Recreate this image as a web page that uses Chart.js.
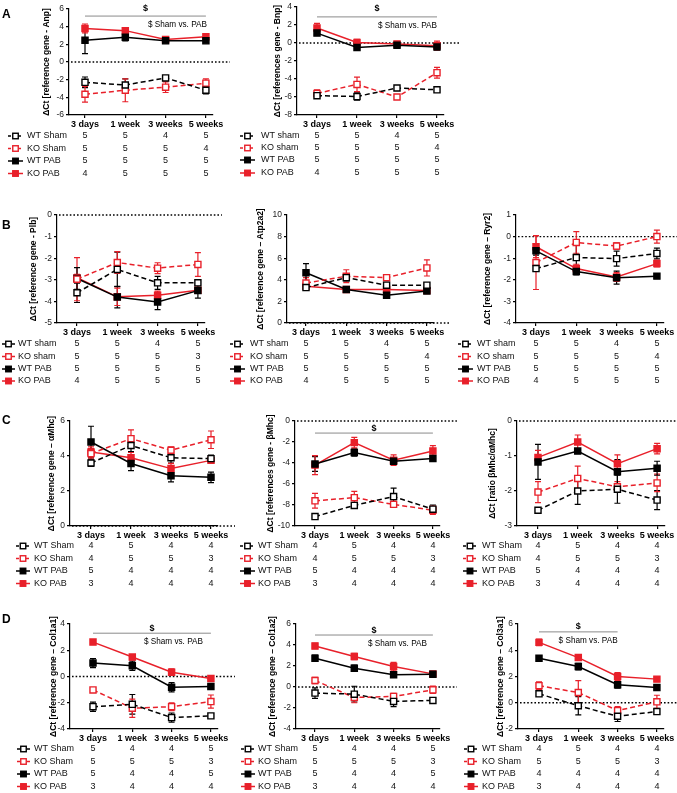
<!DOCTYPE html>
<html>
<head>
<meta charset="utf-8">
<script src="https://cdn.jsdelivr.net/npm/chart.js@4.4.1/dist/chart.umd.min.js"></script>
<style>
  html, body { margin: 0; padding: 0; background: #fff; }
  #wrap { position: relative; width: 677px; height: 793px; overflow: hidden; }
  #wrap canvas { position: absolute; left: 0; top: 0; }
  .lbl { position: absolute; font: bold 12px "Liberation Sans", Arial, sans-serif; line-height: 12px; color: #000; }
</style>
</head>
<body>
<div id="wrap"></div>
<script>
const timepoints = ['3 days', '1 week', '3 weeks', '5 weeks'];
// series order in every array: WT sham, KO sham, WT PAB, KO PAB

// A - Anp
const anpMean = [[-2.3, -2.6, -1.8, -3.2], [-3.65, -3.2, -2.85, -2.4], [2.45, 2.8, 2.4, 2.4], [3.8, 3.55, 2.55, 2.85]];
const anpSem = [[0.6, 0.7, 0.1, 0.4], [0.9, 1.3, 0.6, 0.5], [1.5, 0.4, 0.15, 0.15], [0.5, 0.3, 0.15, 0.25]];
const anpN = [[5, 5, 4, 5], [5, 5, 5, 4], [5, 5, 5, 5], [4, 5, 5, 5]];

// A - Bnp
const bnpMean = [[-5.85, -5.95, -5.0, -5.2], [-5.6, -4.6, -6.0, -3.3], [1.1, -0.5, -0.25, -0.45], [1.67, 0.05, -0.1, -0.3]];
const bnpSem = [[0.15, 0.4, 0.1, 0.2], [0.4, 0.8, 0.2, 0.6], [0.2, 0.15, 0.1, 0.15], [0.5, 0.35, 0.1, 0.5]];
const bnpN = [[5, 5, 4, 5], [5, 5, 5, 4], [5, 5, 5, 5], [4, 5, 5, 5]];

// B - Plb
const plbMean = [[-3.6, -2.52, -3.14, -3.14], [-2.97, -2.2, -2.46, -2.29], [-2.94, -3.8, -4.03, -3.5], [-2.9, -3.79, -3.72, -3.48]];
const plbSem = [[0.45, 0.8, 0.3, 0.1], [1.0, 0.5, 0.25, 0.55], [0.5, 0.5, 0.35, 0.35], [0.15, 0.4, 0.2, 0.1]];
const plbN = [[5, 5, 4, 5], [5, 5, 5, 3], [5, 5, 5, 5], [4, 5, 5, 5]];

// B - Atp2a2
const atpMean = [[3.28, 4.2, 3.5, 3.5], [3.7, 4.33, 4.2, 5.1], [4.65, 3.1, 2.57, 2.97], [3.4, 3.1, 3.1, 3.0]];
const atpSem = [[0.15, 0.3, 0.15, 0.1], [0.5, 0.6, 0.15, 0.75], [0.85, 0.2, 0.1, 0.15], [0.3, 0.2, 0.2, 0.15]];
const atpN = [[5, 5, 4, 5], [5, 5, 5, 4], [5, 5, 5, 5], [4, 5, 5, 5]];

// B - Ryr2
const ryrMean = [[-1.48, -0.97, -1.02, -0.78], [-1.2, -0.27, -0.44, 0.0], [-0.66, -1.62, -1.9, -1.83], [-0.47, -1.48, -1.87, -1.25]];
const ryrSem = [[0.1, 0.7, 0.35, 0.25], [1.25, 0.5, 0.15, 0.3], [0.2, 0.15, 0.3, 0.1], [0.5, 0.2, 0.2, 0.15]];
const ryrN = [[5, 5, 4, 5], [5, 5, 5, 4], [5, 5, 5, 5], [4, 5, 5, 5]];

// C - aMhc
const amhcMean = [[3.6, 4.6, 3.9, 3.85], [4.14, 4.99, 4.33, 4.93], [4.8, 3.57, 2.87, 2.78], [4.23, 3.9, 3.28, 3.75]];
const amhcSem = [[0.2, 0.35, 0.3, 0.2], [0.3, 0.5, 0.2, 0.5], [0.9, 0.4, 0.35, 0.3], [0.3, 0.3, 0.3, 0.15]];
const amhcN = [[4, 5, 4, 4], [4, 5, 5, 3], [5, 4, 4, 4], [3, 4, 4, 4]];

// C - bMhc
const bmhcMean = [[-9.1, -8.04, -7.2, -8.4], [-7.6, -7.3, -7.94, -8.5], [-4.1, -3.0, -3.83, -3.57], [-4.2, -2.06, -3.73, -2.85]];
const bmhcSem = [[0.2, 0.2, 0.8, 0.4], [0.7, 0.6, 0.3, 0.4], [0.7, 0.35, 0.3, 0.2], [0.9, 0.5, 0.5, 0.5]];
const bmhcN = [[4, 5, 4, 4], [4, 5, 5, 3], [5, 4, 4, 4], [3, 4, 4, 4]];

// C - ratio bMhc/aMhc
const ratioMean = [[-2.55, -2.0, -1.95, -2.26], [-2.03, -1.64, -1.88, -1.77], [-1.17, -0.86, -1.45, -1.35], [-1.04, -0.6, -1.22, -0.79]];
const ratioSem = [[0.05, 0.38, 0.4, 0.27], [0.3, 0.35, 0.15, 0.25], [0.5, 0.05, 0.35, 0.2], [0.2, 0.2, 0.25, 0.15]];
const ratioN = [[4, 5, 4, 4], [4, 5, 5, 3], [5, 4, 4, 4], [3, 4, 4, 4]];

// D - Col1a1
const col1a1Mean = [[-2.3, -2.12, -3.13, -3.0], [-1.02, -2.42, -2.3, -1.91], [1.02, 0.82, -0.82, -0.77], [2.62, 1.48, 0.33, -0.15]];
const col1a1Sem = [[0.35, 0.75, 0.35, 0.15], [0.1, 0.7, 0.3, 0.5], [0.35, 0.35, 0.35, 0.15], [0.1, 0.15, 0.25, 0.05]];
const col1a1N = [[5, 4, 4, 5], [5, 5, 5, 3], [5, 4, 4, 5], [3, 4, 4, 4]];

// D - Col1a2
const col1a2Mean = [[-0.58, -0.68, -1.37, -1.28], [0.62, -1.0, -0.9, -0.27], [2.74, 1.79, 1.16, 1.22], [3.91, 2.9, 1.95, 1.25]];
const col1a2Sem = [[0.5, 0.75, 0.5, 0.1], [0.3, 0.5, 0.3, 0.35], [0.3, 0.3, 0.25, 0.1], [0.25, 0.3, 0.4, 0.1]];
const col1a2N = [[5, 4, 4, 5], [5, 5, 5, 3], [5, 4, 4, 5], [3, 4, 4, 4]];

// D - Col3a1
const col3a1Mean = [[0.68, -0.23, -1.03, -0.67], [1.3, 0.78, -0.6, 0.07], [3.39, 2.76, 1.37, 1.16], [4.6, 3.44, 2.0, 1.8]];
const col3a1Sem = [[0.2, 0.7, 0.4, 0.2], [0.3, 0.9, 0.3, 0.5], [0.2, 0.25, 0.25, 0.15], [0.25, 0.15, 0.3, 0.1]];
const col3a1N = [[4, 5, 4, 4], [5, 5, 5, 3], [4, 4, 4, 4], [3, 4, 4, 4]];

const namesUpper = ['WT Sham', 'KO Sham', 'WT PAB', 'KO PAB'];
const namesLower = ['WT sham', 'KO sham', 'WT PAB', 'KO PAB'];

const FONT = '"Liberation Sans", Arial, sans-serif';
const RED = '#e8202a';
const colors = ['#000', RED, '#000', RED];

const panels = [
  { letter: 'A', mean: anpMean, sem: anpSem, n: anpN, names: namesUpper, title: 'ΔCt [reference gene - Anp]',
    yMin: -6, yMax: 6, step: 2, axisX: 69, top: 9, bottom: 115, cat0: 85, gap: 40.3, titleX: 47,
    rows: [136, 148.5, 161, 173.5], icon: [8, 23], labelX: 27, sig: { to: 3, y: 5.2, dy: -8, note: 1 } },
  { mean: bnpMean, sem: bnpSem, n: bnpN, names: namesLower, title: 'ΔCt [references gene - Bnp]',
    yMin: -8, yMax: 4, step: 2, axisX: 297, top: 7, bottom: 115, cat0: 317, gap: 40, titleX: 278,
    rows: [136, 148, 160, 173], icon: [240, 255], labelX: 261, sig: { to: 3, y: 2.9, dy: -8, note: 0 } },
  { letter: 'B', mean: plbMean, sem: plbSem, n: plbN, names: namesLower, title: 'ΔCt [reference gene - Plb]',
    yMin: -5, yMax: 0, step: 1, axisX: 57, top: 215, bottom: 323, cat0: 77, gap: 40.3, titleX: 34,
    rows: [344, 356.5, 369, 381], icon: [2, 15], labelX: 18 },
  { mean: atpMean, sem: atpSem, n: atpN, names: namesLower, title: 'ΔCt [reference gene – Atp2a2]',
    yMin: 0, yMax: 10, step: 2, axisX: 287, top: 215, bottom: 323, cat0: 306, gap: 40.3, titleX: 261,
    rows: [344, 356.5, 369, 381], icon: [230, 245], labelX: 250 },
  { mean: ryrMean, sem: ryrSem, n: ryrN, names: namesLower, title: 'ΔCt [reference gene – Ryr2]',
    yMin: -4, yMax: 1, step: 1, axisX: 516, top: 215, bottom: 323, cat0: 536, gap: 40.3, titleX: 488,
    rows: [344, 356.5, 369, 381], icon: [458, 473], labelX: 477 },
  { letter: 'C', mean: amhcMean, sem: amhcSem, n: amhcN, names: namesUpper, title: 'ΔCt [reference gene – αMhc]',
    yMin: 0, yMax: 6, step: 2, axisX: 70, top: 421, bottom: 526, cat0: 91, gap: 40, titleX: 52,
    rows: [546, 558.5, 571, 583.5], icon: [16, 30], labelX: 34 },
  { mean: bmhcMean, sem: bmhcSem, n: bmhcN, names: namesUpper, title: 'ΔCt [references gene - βMhc]',
    yMin: -10, yMax: 0, step: 2, axisX: 295, top: 421, bottom: 526, cat0: 315, gap: 39.3, titleX: 271,
    rows: [546, 558.5, 571, 583.5], icon: [240, 255], labelX: 258, sig: { to: 3, y: -1.15, dy: -5 } },
  { mean: ratioMean, sem: ratioSem, n: ratioN, names: namesUpper, title: 'ΔCt [ratio βMhc/αMhc]',
    yMin: -3, yMax: 0, step: 1, axisX: 517, top: 421, bottom: 526, cat0: 538, gap: 39.7, titleX: 493,
    rows: [546, 558.5, 571, 583.5], icon: [463, 477], labelX: 482 },
  { letter: 'D', mean: col1a1Mean, sem: col1a1Sem, n: col1a1N, names: namesUpper, title: 'ΔCt [reference gene – Col1a1]',
    yMin: -4, yMax: 4, step: 2, axisX: 70, top: 624, bottom: 729, cat0: 93, gap: 39.3, titleX: 54,
    rows: [749, 761.5, 774, 786.5], icon: [17, 30], labelX: 34, sig: { to: 3, y: 3.3, dy: -5, note: -8 } },
  { mean: col1a2Mean, sem: col1a2Sem, n: col1a2N, names: namesUpper, title: 'ΔCt [reference gene – Col1a2]',
    yMin: -4, yMax: 6, step: 2, axisX: 296, top: 624, bottom: 729, cat0: 315, gap: 39.3, titleX: 273,
    rows: [749, 761.5, 774, 786.5], icon: [241, 255], labelX: 258, sig: { to: 3, y: 4.95, dy: -5, note: -6 } },
  { mean: col3a1Mean, sem: col3a1Sem, n: col3a1N, names: namesUpper, title: 'ΔCt [reference gene – Col3a1]',
    yMin: -2, yMax: 6, step: 2, axisX: 518, top: 624, bottom: 729, cat0: 539, gap: 39.3, titleX: 501,
    rows: [749, 761.5, 774, 786.5], icon: [464, 478], labelX: 482, sig: { to: 2, y: 5.4, dy: -5, note: 0 } }
];

const letterTops = { A: 7.5, B: 218.5, C: 413.5, D: 612.5 };

function square(ctx, x, y, s, open, color) {
  ctx.fillStyle = open ? '#fff' : color;
  ctx.fillRect(x - s / 2, y - s / 2, s, s);
  ctx.strokeStyle = color;
  ctx.lineWidth = 1.4;
  ctx.strokeRect(x - s / 2, y - s / 2, s, s);
}

// zero line, error bars, significance bar and the n table
function decor(p) {
  return {
    id: 'decor',
    beforeDatasetsDraw(chart) {
      const { ctx, chartArea: a, scales: { x, y } } = chart;
      ctx.save();
      const y0 = y.getPixelForValue(0);
      ctx.strokeStyle = '#000';
      ctx.lineWidth = 1.3;
      ctx.setLineDash([1.6, 2]);
      ctx.beginPath();
      ctx.moveTo(a.left + 2, y0);
      ctx.lineTo(a.right + 17, y0);
      ctx.stroke();
      ctx.setLineDash([]);

      p.mean.forEach((row, s) => {
        ctx.strokeStyle = colors[s];
        ctx.lineWidth = 1.2;
        row.forEach((v, i) => {
          const e = p.sem[s][i];
          const px = x.getPixelForValue(i);
          const hi = y.getPixelForValue(v + e);
          const lo = y.getPixelForValue(v - e);
          ctx.beginPath();
          ctx.moveTo(px, hi); ctx.lineTo(px, lo);
          ctx.moveTo(px - 3, hi); ctx.lineTo(px + 3, hi);
          ctx.moveTo(px - 3, lo); ctx.lineTo(px + 3, lo);
          ctx.stroke();
        });
      });
      ctx.restore();
    },
    afterDraw(chart) {
      const { ctx, scales: { x, y } } = chart;
      ctx.save();
      if (p.sig) {
        const sx0 = x.getPixelForValue(0);
        const sx1 = x.getPixelForValue(p.sig.to);
        const sy = y.getPixelForValue(p.sig.y);
        ctx.strokeStyle = '#8a8a8a';
        ctx.lineWidth = 1;
        ctx.beginPath();
        ctx.moveTo(sx0, sy);
        ctx.lineTo(sx1, sy);
        ctx.stroke();
        ctx.fillStyle = '#000';
        ctx.textAlign = 'center';
        ctx.textBaseline = 'middle';
        ctx.font = 'bold 9px ' + FONT;
        ctx.fillText('$', (sx0 + sx1) / 2, sy + p.sig.dy);
        if (p.sig.note !== undefined) {
          ctx.font = '8.2px ' + FONT;
          ctx.textAlign = 'right';
          ctx.fillText('$ Sham vs. PAB', sx1 + p.sig.note, sy + 9);
        }
      }

      ctx.textBaseline = 'middle';
      p.rows.forEach((ry, s) => {
        const [ix0, ix1] = p.icon;
        ctx.strokeStyle = colors[s];
        ctx.lineWidth = 1.5;
        ctx.setLineDash(s < 2 ? [3, 2] : []);
        ctx.beginPath();
        ctx.moveTo(ix0, ry);
        ctx.lineTo(ix1, ry);
        ctx.stroke();
        ctx.setLineDash([]);
        square(ctx, (ix0 + ix1) / 2, ry, 5.5, s < 2, colors[s]);

        ctx.fillStyle = '#111';
        ctx.font = '9px ' + FONT;
        ctx.textAlign = 'left';
        ctx.fillText(p.names[s], p.labelX, ry);
        ctx.textAlign = 'center';
        p.n[s].forEach((v, i) => ctx.fillText(String(v), x.getPixelForValue(i), ry));
      });
      ctx.restore();
    }
  };
}

const wrap = document.getElementById('wrap');

panels.forEach(p => {
  const canvas = document.createElement('canvas');
  canvas.width = 677;
  canvas.height = 793;
  wrap.appendChild(canvas);

  const xH = 20;
  const padLeft = p.titleX - 9.1;
  const yW = p.axisX - padLeft;
  const axisEnd = p.cat0 + 3 * p.gap + 7;
  const xMin = -(p.cat0 - p.axisX) / p.gap;
  const xMax = 3 + 7 / p.gap;

  const axisGrid = { display: true, drawOnChartArea: false, drawTicks: true, tickLength: 3, color: '#000', lineWidth: 1.2 };
  const axisBorder = { display: true, color: '#000', width: 1.2 };

  new Chart(canvas, {
    type: 'line',
    data: {
      datasets: p.mean.map((row, s) => ({
        label: p.names[s],
        data: row.map((v, i) => ({ x: i, y: v })),
        borderColor: colors[s],
        backgroundColor: s < 2 ? '#fff' : colors[s],
        borderWidth: 1.5,
        borderDash: s < 2 ? [5, 3] : [],
        pointStyle: 'rect',
        pointRadius: 4.3,
        pointBorderWidth: 1.4,
        pointBackgroundColor: s < 2 ? '#fff' : colors[s],
        pointBorderColor: colors[s],
        tension: 0,
        clip: false
      }))
    },
    options: {
      responsive: false,
      animation: false,
      devicePixelRatio: 1,
      events: [],
      layout: { padding: { left: padLeft, top: p.top, right: 677 - axisEnd, bottom: 793 - p.bottom - xH } },
      plugins: { legend: { display: false }, tooltip: { enabled: false } },
      scales: {
        x: {
          type: 'linear',
          min: xMin,
          max: xMax,
          afterBuildTicks: sc => { sc.ticks = [0, 1, 2, 3].map(v => ({ value: v })); },
          ticks: {
            callback: v => timepoints[v],
            font: { family: FONT, size: 9, weight: 'bold' },
            color: '#000',
            padding: 1,
            maxRotation: 0,
            autoSkip: false
          },
          grid: axisGrid,
          border: axisBorder,
          afterFit: sc => { sc.height = xH; sc.paddingLeft = 0; sc.paddingRight = 0; }
        },
        y: {
          min: p.yMin,
          max: p.yMax,
          ticks: { stepSize: p.step, font: { family: FONT, size: 8.5 }, color: '#222', padding: 2 },
          grid: axisGrid,
          border: axisBorder,
          title: {
            display: true,
            text: p.title,
            font: { family: FONT, size: 8.5, weight: 'bold' },
            color: '#000',
            padding: { top: 4, bottom: 0 }
          },
          afterFit: sc => { sc.width = yW; sc.paddingTop = 0; sc.paddingBottom = 0; }
        }
      }
    },
    plugins: [decor(p)]
  });

  if (p.letter) {
    const d = document.createElement('div');
    d.className = 'lbl';
    d.textContent = p.letter;
    d.style.left = '2px';
    d.style.top = letterTops[p.letter] + 'px';
    wrap.appendChild(d);
  }
});
</script>
</body>
</html>
